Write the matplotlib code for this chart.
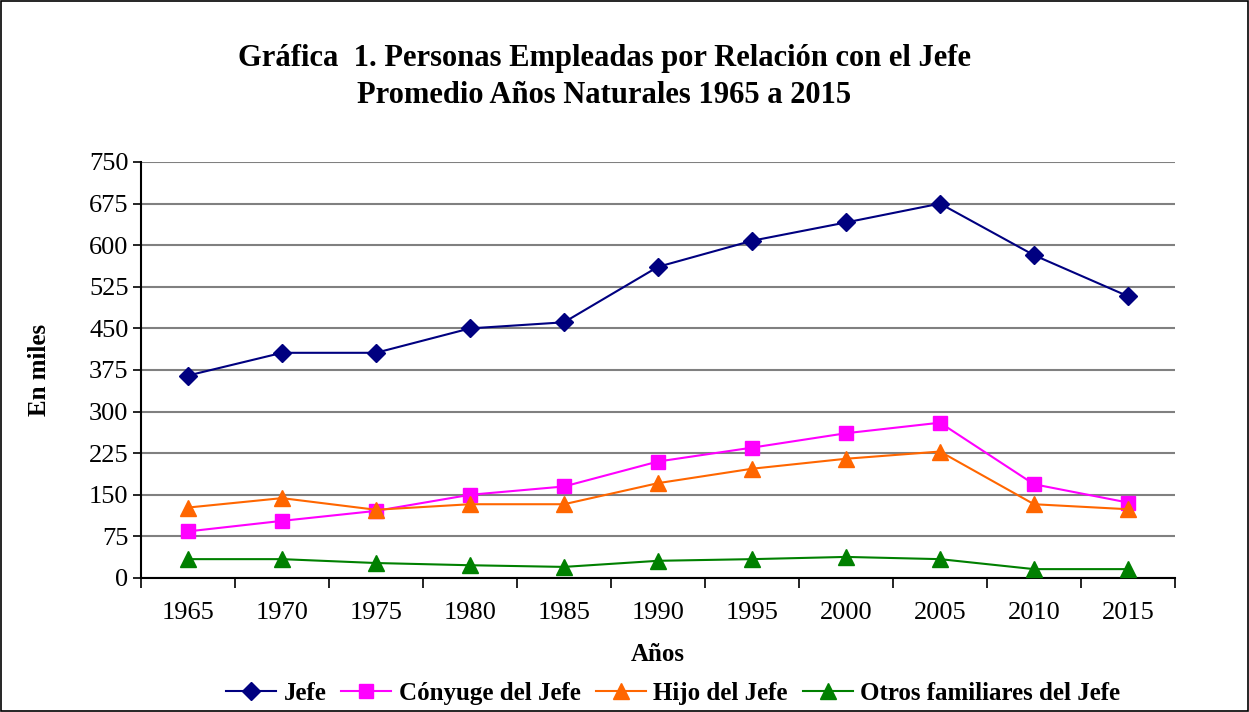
import matplotlib
matplotlib.use("Agg")
import matplotlib.pyplot as plt
import numpy as np
from matplotlib.patches import Rectangle

years = ["1965", "1970", "1975", "1980", "1985", "1990", "1995", "2000", "2005", "2010", "2015"]
jefe = [365, 406, 406, 450, 461, 561, 608, 641, 675, 582, 508]
conyuge = [84, 103, 121, 150, 165, 210, 235, 261, 280, 169, 136]
hijo = [127, 144, 123, 133, 133, 171, 197, 215, 228, 133, 124]
otros = [34, 34, 27, 23, 20, 31, 34, 38, 34, 16, 16]
yticks = [0, 75, 150, 225, 300, 375, 450, 525, 600, 675, 750]

plt.rcParams["font.family"] = ["Liberation Serif", "DejaVu Serif"]

fig = plt.figure(figsize=(12.49, 7.12), dpi=100)
ax = fig.add_axes([141 / 1249, 134 / 712, 1034 / 1249, 416 / 712])

x = np.arange(len(years))
series = [
    ("Jefe", jefe, "#000080", "D", 9),
    ("Cónyuge del Jefe", conyuge, "#ff00ff", "s", 10),
    ("Hijo del Jefe", hijo, "#ff6600", "^", 11),
    ("Otros familiares del Jefe", otros, "#008000", "^", 11),
]
for label, vals, col, mk, ms in series:
    ax.plot(x, vals, color=col, marker=mk, markersize=ms, linewidth=1.5,
            label=label, clip_on=False, zorder=3)

ax.set_xlim(-0.5, len(years) - 0.5)
ax.set_ylim(0, 750)
ax.set_yticks(yticks)
ax.tick_params(axis="y", direction="out", length=6, width=1.2, labelsize=19, pad=3)
ax.yaxis.grid(True, color="#808080", linewidth=1.5)
ax.set_axisbelow(True)

# category axis: ticks between categories, labels at centers
ax.set_xticks(np.arange(-0.5, len(years), 1.0))
ax.set_xticklabels([])
ax.tick_params(axis="x", which="major", direction="out", length=7, width=1.2)
ax.set_xticks(x, minor=True)
ax.set_xticklabels(years, minor=True, fontsize=19)
ax.tick_params(axis="x", which="minor", length=0, pad=17)

for s in ["top", "right"]:
    ax.spines[s].set_visible(False)
for s in ["left", "bottom"]:
    ax.spines[s].set_linewidth(1.5)
    ax.spines[s].set_color("black")

ax.set_ylabel("En miles", fontsize=18, fontweight="bold", labelpad=27)
ax.set_xlabel("Años", fontsize=18, fontweight="bold", labelpad=14)

fig.text(0.484, 0.918, "Gráfica  1. Personas Empleadas por Relación con el Jefe",
         ha="center", va="center", fontsize=22, fontweight="bold")
fig.text(0.484, 0.866, "Promedio Años Naturales 1965 a 2015",
         ha="center", va="center", fontsize=22, fontweight="bold")

fig.legend(loc="center", bbox_to_anchor=(0.539, 0.026), ncol=4, frameon=False,
           prop={"size": 18, "weight": "bold"}, handlelength=2.0,
           handletextpad=0.3, columnspacing=0.6, borderaxespad=0)

fig.patches.append(Rectangle((0.001, 0.001), 0.998, 0.998, transform=fig.transFigure,
                             fill=False, edgecolor="black", linewidth=1.2))

fig.savefig("out.png", dpi=100, facecolor="white")
